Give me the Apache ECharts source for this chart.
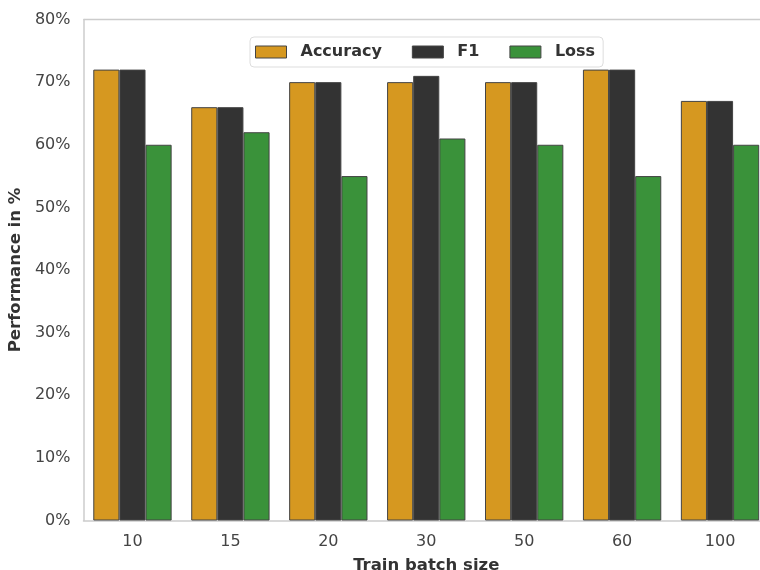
<!DOCTYPE html>
<html>
<head>
<meta charset="utf-8">
<script src="https://cdn.jsdelivr.net/npm/echarts@6/dist/echarts.min.js"></script>
<style>html,body{margin:0;padding:0;background:#fff}#c{width:760px;height:570px}</style>
</head>
<body>
<div id="c"></div>
<script>
const categories = ['10', '15', '20', '30', '50', '60', '100'];
const accuracy = [72, 66, 70, 70, 70, 72, 67];
const f1 = [72, 66, 70, 71, 70, 72, 67];
const loss = [60, 62, 55, 61, 60, 55, 60];
const yTicks = [0, 10, 20, 30, 40, 50, 60, 70, 80];

const chart = echarts.init(document.getElementById('c'));
const font = 'DejaVu Sans';
const mk = (name, data, color) => ({
  name, type: 'bar', data,
  barGap: '0%', barCategoryGap: '20%',
  itemStyle: { color, borderColor: '#444', borderWidth: 1 }
});
chart.setOption({
  animation: false,
  textStyle: { fontFamily: font },
  grid: { left: 83.5, right: -9, top: 19.5, bottom: 49.5, containLabel: false, outerBoundsMode: 'none' },
  legend: {
    top: 37, left: 250,
    data: ['Accuracy', 'F1', 'Loss'],
    icon: 'rect',
    itemWidth: 31, itemHeight: 12, itemGap: 30,
    padding: [7, 8, 7, 5],
    borderColor: '#ddd', borderWidth: 1, borderRadius: 4,
    itemStyle: { borderColor: '#444', borderWidth: 1 },
    textStyle: { fontFamily: font, fontSize: 16, fontWeight: 'bold', color: '#333', padding: [0, 0, 0, 9] }
  },
  xAxis: {
    type: 'category', data: categories,
    name: 'Train batch size', nameLocation: 'middle', nameGap: 37,
    nameTextStyle: { fontFamily: font, fontSize: 16.5, fontWeight: 'bold', color: '#333' },
    axisLine: { lineStyle: { color: '#ccc', width: 1.5 } },
    axisTick: { show: false },
    axisLabel: { fontSize: 16, color: '#444', margin: 13 }
  },
  yAxis: {
    type: 'value', min: 0, max: 80, interval: 10,
    name: 'Performance in %', nameLocation: 'middle', nameGap: 57,
    nameTextStyle: { fontFamily: font, fontSize: 16.5, fontWeight: 'bold', color: '#333' },
    axisLine: { show: true, lineStyle: { color: '#ccc', width: 1.5 } },
    axisTick: { show: false },
    splitLine: { show: false },
    axisLabel: { fontSize: 16, color: '#444', margin: 13,
      formatter: v => yTicks.includes(v) ? v + '%' : '' }
  },
  graphic: [{
    type: 'line', shape: { x1: 83.5, y1: 19.5, x2: 760, y2: 19.5 },
    style: { stroke: '#ccc', lineWidth: 1.5 }
  }],
  series: [
    mk('Accuracy', accuracy, '#d69820'),
    mk('F1', f1, '#333333'),
    mk('Loss', loss, '#3a923a')
  ]
});
</script>
</body>
</html>
